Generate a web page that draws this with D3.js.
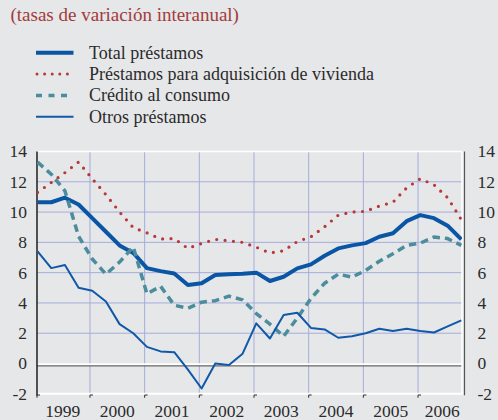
<!DOCTYPE html>
<html><head><meta charset="utf-8">
<script src="https://cdn.jsdelivr.net/npm/d3@7/dist/d3.min.js"></script>
<style>
html,body{margin:0;padding:0;background:#e6e7e9;}
svg{display:block;}
text{font-family:"Liberation Serif","DejaVu Serif",serif;}
</style></head>
<body>
<svg id="chart" width="498" height="420"></svg>
<script>
// quarterly observations, 1999 Q1 .. 2006 Q4
const startYear = 1999;
const nPoints = 32;
const yearLabels = ["1999","2000","2001","2002","2003","2004","2005","2006"];
const yTicks = [-2,0,2,4,6,8,10,12,14];
const seriesNames = ["Total préstamos","Préstamos para adquisición de vivienda","Crédito al consumo","Otros préstamos"];
const totalPrestamos = [10.65,10.65,10.95,10.5,9.6,8.7,7.8,7.3,6.3,6.1,5.95,5.18,5.3,5.85,5.9,5.93,6.0,5.45,5.73,6.28,6.55,7.12,7.6,7.8,7.95,8.37,8.6,9.4,9.8,9.6,9.1,8.2];
const vivienda = [11.3,11.95,12.6,13.3,12.2,11.15,10.0,8.97,8.63,8.22,8.25,7.6,7.93,8.2,8.1,8.0,7.68,7.3,7.45,8.05,8.37,9.03,9.8,10.0,10.05,10.4,10.65,11.6,12.2,11.8,10.95,9.5];
const consumo = [13.3,12.5,11.4,8.4,6.9,5.9,6.7,7.7,4.6,5.1,3.85,3.65,4.05,4.15,4.45,4.2,3.3,2.6,1.8,3.0,4.3,5.3,5.9,5.7,6.15,6.75,7.25,7.8,7.95,8.35,8.25,7.8];
const otros = [7.4,6.3,6.5,5.0,4.8,4.1,2.6,2.0,1.1,0.8,0.75,-0.4,-1.65,0.0,-0.1,0.65,2.65,1.65,3.2,3.35,2.35,2.25,1.7,1.8,2.0,2.3,2.15,2.3,2.15,2.05,2.45,2.85];

const svg = d3.select("#chart");
const L = 37, R = 462, T = 151.5, B = 393.8;
const x = d3.scaleLinear().domain([1999, 2007]).range([35.3, 472.7]);
const y = d3.scaleLinear().domain([-2, 14]).range([B, T]);
const tOf = i => startYear + i / 4 + 1 / 24;

// title
svg.append("text").attr("x", 10.5).attr("y", 21)
  .attr("font-size", 19).attr("fill", "#a23b3c")
  .text("(tasas de variación interanual)");

// legend
const legendStyles = [
  {stroke:"#0a56a5", w:4, dash:null, cap:"butt"},
  {stroke:"#b8383a", w:3, dash:"0,7.6", cap:"round"},
  {stroke:"#4b8d9c", w:3.5, dash:"6,6.5", cap:"butt"},
  {stroke:"#1058a8", w:2, dash:null, cap:"butt"}
];
const legY = [52.7, 74, 95.5, 116.7];
seriesNames.forEach((name, i) => {
  const st = legendStyles[i];
  const ln = svg.append("line").attr("x1", i===1?37:36).attr("x2", 73.5)
    .attr("y1", legY[i]).attr("y2", legY[i])
    .attr("stroke", st.stroke).attr("stroke-width", st.w).attr("stroke-linecap", st.cap);
  if (st.dash) ln.attr("stroke-dasharray", st.dash);
  svg.append("text").attr("x", 89).attr("y", legY[i] + 5.8)
    .attr("font-size", 18).attr("fill", "#2b2b2b").text(name);
});

// grid
const g = svg.append("g");
[2,4,6,8,10,12].forEach(v => {
  g.append("line").attr("x1", L).attr("x2", R).attr("y1", y(v)).attr("y2", y(v))
    .attr("stroke", "#a5addb").attr("stroke-width", 1);
});
d3.range(2000, 2007).forEach(yr => {
  g.append("line").attr("x1", x(yr)).attr("x2", x(yr)).attr("y1", T).attr("y2", B)
    .attr("stroke", "#a5addb").attr("stroke-width", 1);
});
// zero line
g.append("line").attr("x1", L).attr("x2", R).attr("y1", y(0)+0.6).attr("y2", y(0)+0.6)
  .attr("stroke", "#ffffff").attr("stroke-width", 1.6);
g.append("line").attr("x1", L).attr("x2", R).attr("y1", y(0)+2.3).attr("y2", y(0)+2.3)
  .attr("stroke", "#6b6b6b").attr("stroke-width", 1.2);
// frame
g.append("line").attr("x1", L).attr("x2", R).attr("y1", T).attr("y2", T)
  .attr("stroke", "#ffffff").attr("stroke-width", 1.5);
g.append("line").attr("x1", R).attr("x2", R).attr("y1", T).attr("y2", B)
  .attr("stroke", "#ffffff").attr("stroke-width", 1.5);
g.append("line").attr("x1", L).attr("x2", R+1).attr("y1", B).attr("y2", B)
  .attr("stroke", "#ffffff").attr("stroke-width", 2);
g.append("line").attr("x1", 464.5).attr("x2", 464.5).attr("y1", T).attr("y2", B+1.5)
  .attr("stroke", "#555555").attr("stroke-width", 1.2);
g.append("line").attr("x1", L).attr("x2", L).attr("y1", T).attr("y2", B+2)
  .attr("stroke", "#111111").attr("stroke-width", 1.4);
// bottom ticks
d3.range(1999, 2007).forEach(yr => {
  const xx = yr === 1999 ? L : x(yr);
  g.append("path").attr("d", `M${xx},${B+4}V${B+1.2}H${xx+3}`)
    .attr("fill", "none").attr("stroke", "#333").attr("stroke-width", 1);
});

// clip
svg.append("clipPath").attr("id", "clip").append("rect")
  .attr("x", L).attr("y", T - 6).attr("width", R - L).attr("height", B - T + 6);

const line = d3.line().x((d, i) => x(tOf(i))).y(d => y(d));
const plot = svg.append("g").attr("clip-path", "url(#clip)");
const dataSets = [totalPrestamos, vivienda, consumo, otros];
dataSets.forEach((ds, i) => {
  const st = legendStyles[i];
  const p = plot.append("path").datum(ds).attr("d", line)
    .attr("fill", "none").attr("stroke", st.stroke).attr("stroke-width", i === 1 ? 3.2 : st.w)
    .attr("stroke-linejoin", "round").attr("stroke-linecap", st.cap);
  if (st.dash) p.attr("stroke-dasharray", i === 1 ? "0,8.4" : "7.5,5");
});

// y labels
yTicks.forEach(v => {
  svg.append("text").attr("x", 27).attr("y", y(v)).attr("dy", "0.34em")
    .attr("text-anchor", "end").attr("font-size", 17.5).attr("fill", "#2b2b2b").text(v);
  svg.append("text").attr("x", 477.5).attr("y", y(v)).attr("dy", "0.34em")
    .attr("text-anchor", "start").attr("font-size", 17.5).attr("fill", "#2b2b2b").text(v);
});
// x labels
yearLabels.forEach((lab, i) => {
  svg.append("text").attr("x", x(1999 + i + 0.5) - (i === 7 ? 3 : 0)).attr("y", 417)
    .attr("text-anchor", "middle").attr("font-size", 17.5).attr("fill", "#2b2b2b").text(lab);
});
</script>
</body></html>
